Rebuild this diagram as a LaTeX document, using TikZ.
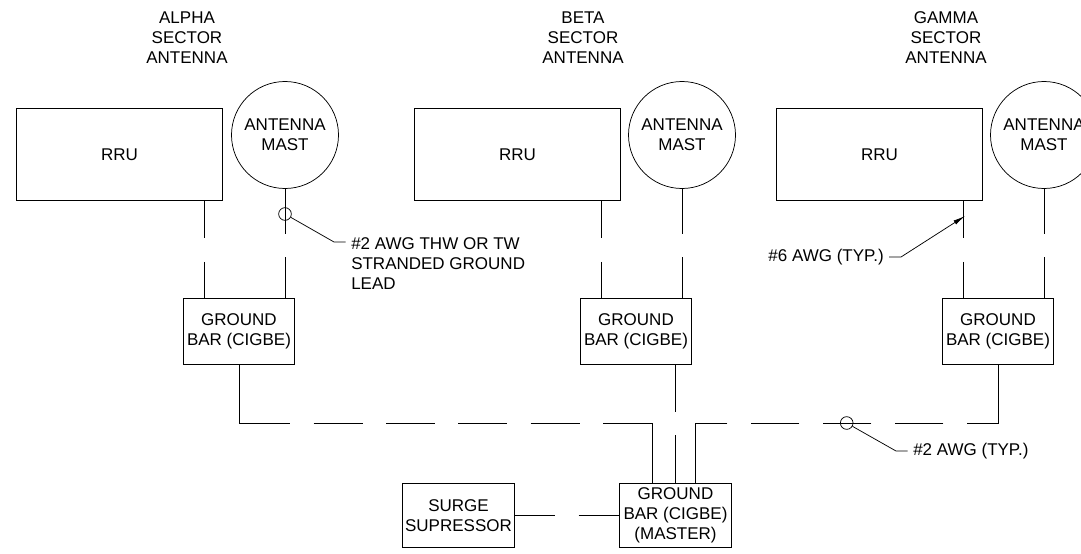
\documentclass[tikz,border=0pt]{standalone}
\usepackage{fontspec}
\setmainfont{Liberation Sans}
\usetikzlibrary{arrows.meta}
\tikzset{
    every node/.style={font=\fontsize{12.75}{15}\selectfont,align=center,inner sep=0pt},
    box/.style={draw,line width=.75pt},
    rrubox/.style={box,minimum width=154.5pt,minimum height=69pt},
    barbox/.style={box,minimum width=83.25pt,minimum height=49.5pt},
    mainbox/.style={box,minimum width=84pt,minimum height=48pt},
    mastcircle/.style={draw,circle,line width=.55pt,minimum size=80.25pt},
    tagcircle/.style={draw,circle,line width=.55pt,minimum size=9.5pt},
    wire/.style={line width=.75pt},
    gapwire/.style={wire,dash pattern=on #1 off 17.5pt on 100pt},
    lead/.style={line width=.55pt}
}
\begin{document}
\begin{tikzpicture}[x=.75pt,y=-.75pt]
    \useasboundingbox (0,0) rectangle (1081,553);
    % sectors
    \foreach \name/\title/\tx/\rx/\mx/\bx in {
        A/ALPHA/187/119.5/285/239,
        B/BETA/583/517.5/682/636,
        C/GAMMA/946/879.5/1044/998} {
        \node (title\name) at (\tx,37.5) {\title\\SECTOR\\ANTENNA};
        \node[rrubox] (rru\name) at (\rx,154.5) {RRU};
        \node[mastcircle] (mast\name) at (\mx,135) {ANTENNA\\MAST};
        \node[barbox] (bar\name) at (\bx,331.5) {GROUND\\BAR (CIGBE)};
        \coordinate (tap\name) at (\bx-34.5,0);
        \draw[gapwire=28.1pt] (rru\name.south -| tap\name) -- (bar\name.north -| tap\name);
        \draw[gapwire=33.8pt] (mast\name.south) -- (bar\name.north -| mast\name);
    }
    % master bar and surge supressor
    \node[mainbox] (master) at (675.5,515.5) {GROUND\\BAR (CIGBE)\\(MASTER)};
    \node[mainbox] (surge) at (458.5,515.5) {SURGE\\SUPRESSOR};
    \draw[gapwire=30.2pt] (surge.east) -- (master.west);
    \draw[gapwire=35.2pt] (barB.south -| master) -- (master.north);
    % buses
    \coordinate (busA) at (652.5,423);
    \coordinate (busC) at (695.5,423);
    \draw[wire,dash pattern=on 82pt off 17.5pt on 36.75pt off 17.5pt on 36.75pt off 17.5pt
        on 36.75pt off 17.5pt on 36.75pt off 17.5pt on 200pt]
        (barA.south) -- (barA.south |- busA) -- (busA) -- (master.north -| busA);
    \draw[wire,dash pattern=on 67pt off 17.5pt on 36.5pt off 17.5pt on 36.5pt off 17.5pt
        on 36.5pt off 17.5pt on 200pt]
        (barC.south) -- (barC.south |- busC) -- (busC) -- (master.north -| busC);
    % callouts
    \node[tagcircle] (tagA) at (285,214) {};
    \coordinate (kneeA) at (334,242);
    \coordinate (tailA) at (345.7,242);
    \node[anchor=west,align=left] (noteA) at (351,263.5) {\#2 AWG THW OR TW\\STRANDED GROUND\\LEAD};
    \draw[lead] (tagA.-30) -- (kneeA) -- (tailA);
    \node[anchor=east] (noteB) at (884,257.5) {\#6 AWG (TYP.)};
    \coordinate (tailB) at (889,257);
    \coordinate (kneeB) at (901,257);
    \coordinate (tipB) at (965,216);
    \draw[lead,-{Latex[length=9pt,width=3.5pt]}] (tailB) -- (kneeB) -- (tipB);
    \node[tagcircle] (tagC) at (846.7,423) {};
    \coordinate (kneeC) at (896,451);
    \coordinate (tailC) at (907.7,451);
    \node[anchor=west] (noteC) at (913,451.5) {\#2 AWG (TYP.)};
    \draw[lead] (tagC.-30) -- (kneeC) -- (tailC);
\end{tikzpicture}
\end{document}
